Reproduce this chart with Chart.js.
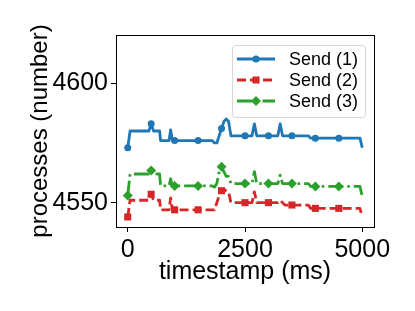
<!DOCTYPE html>
<html>
<head>
<meta charset="utf-8">
<script src="https://cdn.jsdelivr.net/npm/chart.js@4/dist/chart.umd.min.js"></script>
<style>
  html, body { margin: 0; padding: 0; background: #ffffff; }
  #wrap { width: 415px; height: 311px; }
</style>
</head>
<body>
<div id="wrap"><canvas id="chart" width="415" height="311"></canvas></div>
<script>
(function () {

// ---------------------------------------------------------------- data
var timestamps = [0, 50, 100, 450, 500, 550, 680, 700, 880, 915,
                  950, 1000, 1500, 1800, 1850, 1900, 1950, 2000, 2050, 2100,
                  2150, 2200, 2500, 2650, 2700, 2750, 3000, 3200, 3250, 3300,
                  3350, 3500, 3850, 3900, 4000, 4500, 4950, 5000];

var send1 = [4573, 4580, 4580, 4580, 4583, 4580, 4580, 4576, 4576, 4580.5,
             4576, 4576, 4576, 4576, 4575, 4575, 4578, 4581, 4584, 4585,
             4584, 4578, 4578, 4578, 4583, 4578, 4578, 4578, 4583, 4578,
             4578, 4578, 4578, 4577, 4577, 4577, 4577, 4573];

var send2 = [4544, 4551, 4551, 4551, 4553.5, 4551, 4551, 4547, 4547, 4552,
             4547, 4547, 4547, 4547, 4547, 4550, 4553, 4555, 4555.5, 4555,
             4554.5, 4550, 4550, 4550, 4554.5, 4550, 4550, 4550, 4551, 4550,
             4549, 4549, 4549, 4547.6, 4547.6, 4547.6, 4547.6, 4544];

var send3 = [4553, 4562, 4562, 4562, 4563.5, 4562, 4562, 4557, 4557, 4560,
             4557, 4557, 4557, 4557, 4556.5, 4558, 4563, 4565, 4563, 4561,
             4561, 4558, 4558, 4558, 4563, 4558, 4558, 4558, 4561.5, 4558,
             4558, 4558, 4558, 4556.8, 4556.8, 4556.8, 4556.8, 4552.5];

var seriesLabels = ["Send (1)", "Send (2)", "Send (3)"];
var markerTimes = [0, 500, 1000, 1500, 2000, 2500, 3000, 3500, 4000, 4500];
var xTicks = [0, 2500, 5000];
var yTicks = [4550, 4600];
// ---------------------------------------------------------------------

var FONT = "'Liberation Sans', Arial, sans-serif";

function toPoints(values) {
    return timestamps.map(function (t, i) { return { x: t, y: values[i] }; });
}

function markerRadius(r) {
    return function (c) {
        return markerTimes.indexOf(timestamps[c.dataIndex]) >= 0 ? r : 0;
    };
}

function makeSet(label, values, color, dash, style, r) {
    return {
        label: label,
        data: toPoints(values),
        borderColor: color,
        backgroundColor: color,
        borderWidth: 2.8,
        borderDash: dash,
        borderCapStyle: 'butt',
        borderJoinStyle: 'round',
        tension: 0,
        fill: false,
        pointStyle: style,
        pointRadius: markerRadius(r),
        pointHoverRadius: 0,
        pointBackgroundColor: color,
        pointBorderColor: color,
        pointBorderWidth: 0,
        legendRadius: r
    };
}

// frame around the plot area (matplotlib style spines)
var frame = {
    id: 'frame',
    afterDatasetsDraw: function (chart) {
        var a = chart.chartArea, ctx = chart.ctx;
        ctx.save();
        ctx.strokeStyle = '#000000';
        ctx.lineWidth = 1;
        ctx.strokeRect(Math.round(a.left) + 0.5, Math.round(a.top) + 0.5,
                       Math.round(a.right - a.left), Math.round(a.bottom - a.top));
        ctx.restore();
    }
};

// legend box in the upper right, line sample + marker + text
var legendBox = {
    id: 'legendBox',
    afterDraw: function (chart) {
        var ctx = chart.ctx;
        var bx = 232, by = 45, bw = 133, bh = 72;
        ctx.save();
        ctx.fillStyle = 'rgba(255,255,255,0.8)';
        ctx.strokeStyle = '#d6d6d6';
        ctx.lineWidth = 1;
        ctx.beginPath();
        ctx.roundRect(bx + 0.5, by + 0.5, bw, bh, 3);
        ctx.fill();
        ctx.stroke();

        chart.data.datasets.forEach(function (ds, i) {
            var ry = 59 + i * 21;
            ctx.strokeStyle = ds.borderColor;
            ctx.lineWidth = ds.borderWidth;
            ctx.lineCap = 'butt';
            ctx.setLineDash(ds.borderDash || []);
            ctx.beginPath();
            ctx.moveTo(237, ry);
            ctx.lineTo(275, ry);
            ctx.stroke();
            ctx.setLineDash([]);
            ctx.fillStyle = ds.borderColor;
            Chart.helpers.drawPoint(ctx, {
                pointStyle: ds.pointStyle, radius: ds.legendRadius, rotation: 0, borderWidth: 0
            }, 256, ry);

            ctx.fillStyle = '#000000';
            ctx.font = '18px ' + FONT;
            ctx.textBaseline = 'middle';
            ctx.textAlign = 'left';
            ctx.fillText(ds.label, 289, ry + 1);
        });
        ctx.restore();
    }
};

try {
    var ctx = document.getElementById('chart').getContext('2d');
    new Chart(ctx, {
        type: 'line',
        data: {
            datasets: [
                makeSet(seriesLabels[0], send1, '#1f77b4', [], 'circle', 3.5),
                makeSet(seriesLabels[1], send2, '#d62728', [9, 4], 'rect', 5),
                makeSet(seriesLabels[2], send3, '#2ca02c', [15, 4, 2.5, 4], 'rectRot', 5)
            ]
        },
        options: {
            responsive: false,
            animation: false,
            layout: { padding: { left: 0, right: 41, top: 35, bottom: 0 } },
            plugins: {
                legend: { display: false },
                tooltip: { enabled: false }
            },
            scales: {
                x: {
                    type: 'linear',
                    min: -250,
                    max: 5250,
                    afterBuildTicks: function (s) { s.ticks = xTicks.map(function (v) { return { value: v }; }); },
                    afterFit: function (s) { s.height = 84; },
                    border: { display: false },
                    grid: { drawOnChartArea: false, drawTicks: true, tickLength: 5, color: '#000000' },
                    ticks: {
                        color: '#000000',
                        padding: 3,
                        maxRotation: 0,
                        font: { family: FONT, size: 25 },
                        callback: function (v) { return String(v); }
                    },
                    title: {
                        display: true,
                        text: 'timestamp (ms)',
                        color: '#000000',
                        font: { family: FONT, size: 25 },
                        padding: { top: 0, bottom: 24 }
                    }
                },
                y: {
                    type: 'linear',
                    min: 4539.8,
                    max: 4620.2,
                    afterBuildTicks: function (s) { s.ticks = yTicks.map(function (v) { return { value: v }; }); },
                    afterFit: function (s) { s.width = 116; },
                    border: { display: false },
                    grid: { drawOnChartArea: false, drawTicks: true, tickLength: 5, color: '#000000' },
                    ticks: {
                        color: '#000000',
                        padding: 3,
                        font: { family: FONT, size: 25 },
                        callback: function (v) { return String(v); }
                    },
                    title: {
                        display: true,
                        text: 'processes (number)',
                        color: '#000000',
                        font: { family: FONT, size: 24 },
                        padding: { top: 26, bottom: 0 }
                    }
                }
            }
        },
        plugins: [frame, legendBox]
    });
} catch (e) {
    console.log("Error in chart: " + e);
}

})();
</script>
</body>
</html>
